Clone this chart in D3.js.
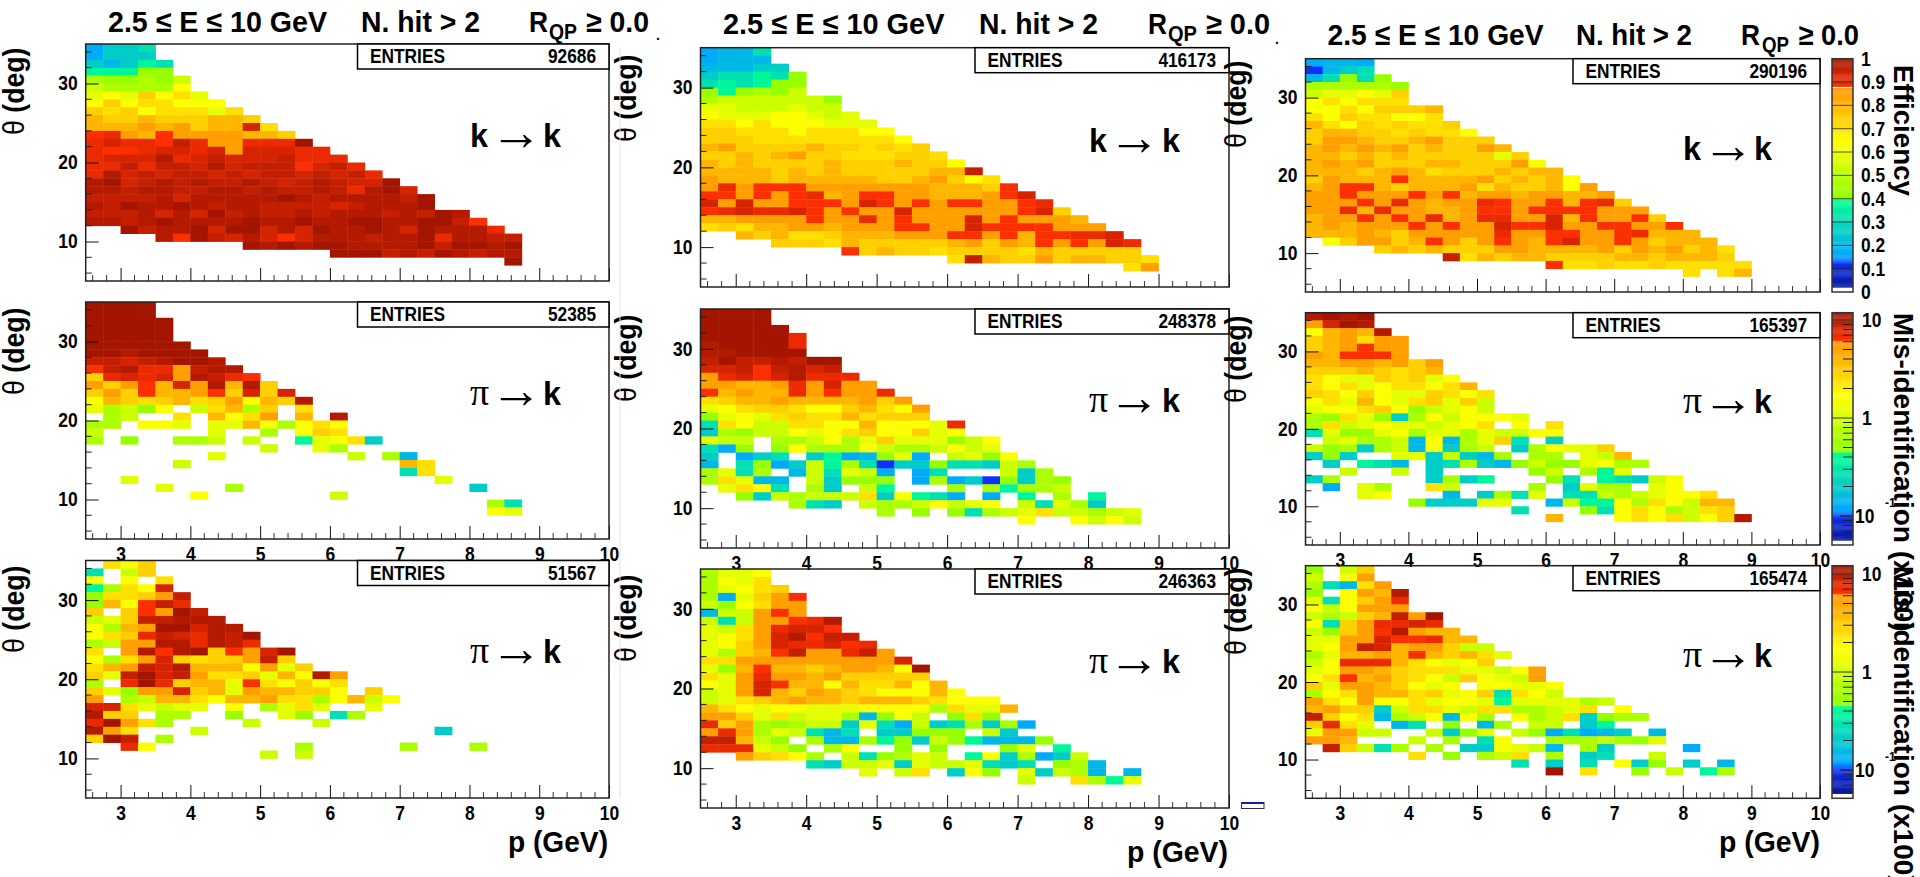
<!DOCTYPE html>
<html>
<head>
<meta charset="utf-8">
<script src="https://cdn.jsdelivr.net/npm/d3@7"></script>
<style>
html,body{margin:0;padding:0;background:#fff;overflow:hidden}
svg{display:block}
text{font-family:"Liberation Sans",Arial,sans-serif;font-weight:bold;fill:#000}
</style>
</head>
<body>
<svg id="c" width="1920" height="877"></svg>
<script>
// One character per cell, one string per theta row (top row = 34-35 deg). "." = empty bin.
const kk_A=["ceef","ceee","edegf","ggghh","ihhihj","jiiiil","klknlmk","lnlmmlll","nmnlmmmkm","onnonnnoon","ooopopnoosm","qrpoqppppoon","rsrrqtrpprrrv","rqqrssrspsssrr","rsssurstssstrrr","rrtrttsustttqstr","ruststtststtststr","uvstututtutstutssv","uutuuttuututtutruvs","ttttusuuuuuvutuuuutv","utvuuvutuuttttstuuuv","tttususvtuttutuuututvu","uutuvuuuuvuuvuuvvuuvvtq","..vtuuvsvvsusvuuvusvuuur","....uqvtsusqsuuutuuvruutt",".........vuvuvvuuuuvtvvuv","..............vvvtutvutuu","........................v"];
const pk_A=["vvvv","vvvv","vvvvv","vvvvv","vvvvv","vvvvvv","vvuvvvv","ttstuvvu","qturrptuu","nrsrsputrq","pnpqospuoun","npnqoopqnsns","lonmnomnplonu","kijhl.jmoin.m",".ij..m.olmp.o.u","ii.llk.kkolilml","j......k..i.lnm","i.h..iij.j..gklme","..........j..ki",".......k.......j.id",".....j............om","..................fm","..k.................k","....k...i.............e","......l.......j",".......................if",".......................lk"];
const pk2_A=[".mln","f.jn","l.l.m","gimls","hmmnpt","holqtr","n.nqpvt","jknttuuu","liopvvsuu","lmnrtsrutv","ijppuurutr","m.puquvnqpsv","limpsnmnnptn","moptsuooolpkn","nktvstpmmnkolup","i.rvrnookqmlnlm","nkhppsnokpoonnl.n","p.ijoomloopmmilojl","ssmkjkk.l.ikmk..k","unn.ii..h..kh.fi","rvpmi....j...j","upm...j.............e","nvt.i","..rl........i.....i...i","..........j.j"];
const kk_B=["cddf","cddd","dddee","effgfh","fgfghh","hghihj","ijjjjjjh","kkjjjkjj","lkkkllkjk","mmlmlllkkk","nnmmmlmmmll","nnnmmmmmmmml","opnnnnonnmnmn","nnonopnnmmmnnm","ononnnnonnnonnl","oooonononnnnnoot","pooonooooonnopnlm","prpqqqpppppppooonq","qqpqpqropqqppooopqs","spsppqqqpsqpqpqqppqr","qrsrrsqpqppsppppppqsn","ooppppqpprpqpppspqpppo","mnmooppoppp"+"qqpp"+"sqqq"+"qppp","..onommnoooppp"+"qqpqoqqrrs","....nnnmonnnnnopnpoqpqpsr","........qnonnmnnnnmonnnnn","..............mtonnpnoonnm","........................mp"];
const pk_B=["vvvv","vvvv","vvvvv","vvvvvr","uvvvvr","uuvvvv","tvttutvv","sstqtust","prsqsurrr","ppooprpspp","qopoorpqppr","mnoopoooopnp","klmnnmllnomlp","hklkmnmmomnnn","fmljjmmllolllkr","eihjjlklmnllnkl","kjj.iijliknkkkhjl","fch.hliiiljiijljk","e.cef.egcdhkc.jkhl","d.fhcejgifbeehffeji","ikfi.djfkjc.cf...jei","imkdd.jehhh.cicebheih",".kmlf.ie.jg...i.igiij","..hejijjjmelgfc.c.g.i.g",".....ife.jiijljkl.jfkie","..........i.h.hfijkmjjijk","..................l..ljlj"];
const pk2_B=["ikkl","ilkm","iklmn","icknpq","jhlmpp","djjpqp","jfjppqru","kjmprssq","klmpsuqtt","klnpsrrsqr","kinoqtpprtp","mmppppppppps","khoqoonoppolv","mkprppopnnnnn","lkpsqoolommolo","jkpsonponmlllol","jkmnopoonooonmlll","omlkllkkkllllimkko","ppnkmjkkidhlj.hmh","rnpihijjekfcjefieic","prpikjfdf.eehhh.je","ttojh.iddighejhgdddh","rrrkjh.il..h.h...hk.g","..pnmli.jfhikj.gleicej","......fejjkekjjkfef.hid",".........k.jm.elh.kejid.d","..................j..migk"];
const kk_C=["cddc","bdef","dfhfh","iiiiih","jkklkn","lmlmmm","llmlnnno","mlnmmllm","omlnmnmmn","noonnmnmml","npponnopnnn","opopopnonnpo","oonononnnnnkn","opopnnnoonnnpl","ooonopomnnnonoo","npoooqoooopnonol","opqqonooopmonnolp","ppqpppqpqoppoppoop","pppqprpopprqppqoqrn","pprorppoopqqpqqqqppp","oppqpqproprrppsoqppqn","opopppqpqppsqqsppqqppq","oooponpppppr"+"ppqqppqr"+"ooo",".lnppnoqpnpqpoqsppqpnooo","....nononnnppoooopnpopnom","........tmonoonnnnoonooon","..............qmmnmmnmmmmm","......................m.mo"];
const pk_C=["uvuv","psvu","lopou","nopmpp","nopqpp","poqqqp","ooppopnp","nnnonmno","mlkknmnkl","mlmklmmlmo","nmlnlkknmlm","lmkolkmnknj","kllmnlhjklj","ihmkheiljlllk","imjklkkjklm.l.m","fkhhklikkikjjll",".jkiijdldiknf.e","jhieijdleij.eilkkn","ehe..kkejedi.ii.kjo",".e.gfd.efiedhjhhklii","..j..j.e.....hj.igk","ei.....eieg...hf.gfejl",".c.ki..mj....i.ekii.kl","...kl...d.eifk.ffjijkllm","......heeekk..djgglimljoo","............f...hflmlijmn","..............o...lmlmjlnu"];
const pk2_C=["h.jn","j.lp","ifdmp","h.lpou","kflnpr","ljlppp","jijnotpv","lfnprrsr","jhnpqupoo","kkppsqqroo","klptsoppnjj","ikoopoqonomk","jlrrromlkln","klpponmmmkkjlp","lmqopnmljnlkjp","nkpponlkl.llkkl","ilmpoomnklnfmlj","pmlpllmkllkgkkkkij","opnnejmmkjmmiijkm.l","tnlmdijldli.lijmehii","nrmk.df.h.di.jj.eg","kppjj..jehk.jhcfcde.d","ppo...j.i.fl..iiijihk",".tnjfi.i.eelkjd.ie....c","......m.h.ijm.i.ef..j","............f.e.f.leh.e.d","..............v.m..h.j.gi"];

const levelCodes="abcdefghijklmnopqrstuv";
const levelValues=[.06,.12,.16,.20,.25,.31,.37,.42,.47,.53,.58,.64,.70,.74,.79,.85,.885,.905,.93,.955,.975,.995];
const paletteStops=[.02,.10,.12,.15,.20,.25,.30,.35,.395,.40,.50,.55,.60,.65,.70,.75,.80,.875,.88,1];
const paletteColors=["#0a18a0","#0c28d8","#1030ff","#00a8ff","#00b8e8","#00ccc8","#00dcb8","#00f0a0","#00ff90","#90ff00","#b8ff00","#d8ff00","#f0ff00","#ffff00","#ffe000","#ffcc00","#ffb000","#ff9800","#ff3000","#a01400"];

const entries=[92686,52385,51567,416173,248378,246363,290196,165397,165474];
const grids=[kk_A,pk_A,pk2_A,kk_B,pk_B,pk2_B,kk_C,pk_C,pk2_C];
const pBinEdges=d3.range(2.5,10.01,.25);
const xMajor=[3,4,5,6,7,8,9,10], xMinor=d3.range(2.6,10,.2);
const yMajor=[10,20,30], yMinor=[6,8,12,14,16,18,22,24,26,28,32,34];
const effTicks=[0,.1,.2,.3,.4,.5,.6,.7,.8,.9,1];
const misMinor=[.06,.07,.08,.09,.2,.3,.4,.5,.6,.7,.8,.9,2,3,4,5,6,7,8,9];

// layout
const colX=[[85.7,609],[700.5,1229],[1305.5,1820]];
const rowY=[[[44,281],[302,539],[560.5,798]],[[47.7,287],[309,548],[569,808]],[[58.7,292],[312.7,545],[565.7,798.3]]];
const tickRow=[false,true,true];
const reaction=[["k","k"],["π","k"],["π","k"]];
const reacX=[[470,500,543],[1089,1118,1162],[1683,1712,1754]];
const reacY=[[147,405,663],[152,412,673],[160,413,667]];

const svg=d3.select("#c");
const palette=d3.scaleLinear().domain(paletteStops).range(paletteColors).clamp(true);
const value=c=>levelValues[levelCodes.indexOf(c)];
const DIGIT=9.7;

function txt(x,y,s,size,len,opt={}){
  const t=svg.append("text").attr("x",x).attr("y",y).attr("font-size",size).text(s);
  if(len){t.attr("textLength",len).attr("lengthAdjust","spacingAndGlyphs");}
  if(opt.anchor)t.attr("text-anchor",opt.anchor);
  if(opt.weight)t.style("font-weight",opt.weight);
  if(opt.family)t.style("font-family",opt.family);
  return t;
}

colX.forEach((xr,ci)=>{
  rowY[ci].forEach((yr,ri)=>{
    const x=d3.scaleLinear().domain([2.5,10]).range(xr);
    const y=d3.scaleLinear().domain([5,35]).range([yr[1],yr[0]]);
    const g=svg.append("g");
    const grid=grids[ci*3+ri];
    const cells=[];
    grid.forEach((row,i)=>{ [...row].forEach((c,j)=>{ if(c!=="."&&j<30) cells.push({p:pBinEdges[j],th:34-i,v:value(c)}); }); });
    g.selectAll("rect.cell").data(cells).join("rect").attr("class","cell")
      .attr("x",d=>x(d.p)).attr("y",d=>y(d.th+1))
      .attr("width",d=>x(d.p+.25)-x(d.p)+.4).attr("height",d=>y(d.th)-y(d.th+1)+.4)
      .attr("fill",d=>palette(d.v));
    g.selectAll("line.mx").data(xMinor.filter(v=>Math.abs(v-Math.round(v))>.01)).join("line")
      .attr("x1",x).attr("x2",x).attr("y1",yr[1]).attr("y2",yr[1]-6).attr("stroke","#333").attr("stroke-width",1);
    g.selectAll("line.my").data(yMinor).join("line")
      .attr("y1",y).attr("y2",y).attr("x1",xr[0]).attr("x2",xr[0]+6).attr("stroke","#222").attr("stroke-width",1);
    const ax=g.append("g").attr("transform",`translate(0,${yr[1]})`)
      .call(d3.axisBottom(x).tickValues(xMajor).tickSize(-13).tickSizeOuter(0).tickPadding(8)
        .tickFormat(tickRow[ri]?d3.format("d"):()=>""));
    const ay=g.append("g").attr("transform",`translate(${xr[0]},0)`)
      .call(d3.axisLeft(y).tickValues(yMajor).tickSize(-13).tickSizeOuter(0).tickPadding(8));
    [ax,ay].forEach(a=>{
      a.select(".domain").remove();
      a.selectAll("text").attr("font-size",20).style("font-family",'"Liberation Sans"').style("font-weight","bold").attr("fill","#000")
        .each(function(){const n=this.textContent.length; if(n) d3.select(this).attr("textLength",n*DIGIT).attr("lengthAdjust","spacingAndGlyphs");});
      a.selectAll("line").attr("stroke","#111").attr("stroke-width",1);
    });
    g.append("rect").attr("x",xr[0]).attr("y",yr[0]).attr("width",xr[1]-xr[0]).attr("height",yr[1]-yr[0])
      .attr("fill","none").attr("stroke","#222").attr("stroke-width",1.5);
    const bx=xr[1]-(ci===2?247:(ci===1?254:251.5));
    g.append("rect").attr("x",bx).attr("y",yr[0]).attr("width",xr[1]-bx).attr("height",25)
      .attr("fill","#fff").attr("stroke","#000").attr("stroke-width",1.5);
    g.append("text").attr("x",bx+12.5).attr("y",yr[0]+19).attr("font-size",19.5)
      .attr("textLength",75).attr("lengthAdjust","spacingAndGlyphs").text("ENTRIES");
    const es=String(entries[ci*3+ri]);
    g.append("text").attr("x",xr[1]-13).attr("y",yr[0]+19).attr("font-size",19.5).attr("text-anchor","end")
      .attr("textLength",es.length*9.6).attr("lengthAdjust","spacingAndGlyphs").text(es);
    const [a,b]=reaction[ri], rx=reacX[ci], by=reacY[ci][ri];
    if(a==="π") txt(rx[0],by,a,38,null,{weight:"normal",family:'"Liberation Serif"'});
    else txt(rx[0],by,a,34,18);
    txt(rx[1]-10,by+3,"→",52,null,{weight:"normal"});
    txt(rx[2],by,b,34,18);
  });
});

const titleX=[
 {e:[108,327],n:[361,480],r:529,q:[549,577],g:[586,649],y:32},
 {e:[723,944.5],n:[979,1098],r:1148,q:[1168,1197],g:[1206,1270],y:34},
 {e:[1327.6,1543.6],n:[1576,1692],r:1741,q:[1762,1789],g:[1798.5,1859],y:45}
];
titleX.forEach(t=>{
  txt(t.e[0],t.y,"2.5 ≤ E ≤ 10 GeV",30,t.e[1]-t.e[0]);
  txt(t.n[0],t.y,"N. hit > 2",30,t.n[1]-t.n[0]);
  txt(t.r,t.y,"R",30,19);
  txt(t.q[0],t.y+7,"QP",22,t.q[1]-t.q[0]);
  txt(t.g[0],t.y,"≥ 0.0",30,t.g[1]-t.g[0]);
});
txt(656,40,".",14);
txt(1275,44,".",14);

[[508,608,852],[1127,1228,862],[1719,1820,852]].forEach(d=>txt(d[0],d[2],"p (GeV)",30,d[1]-d[0]));

[[24,[135,395,653]],[636,[142,402,662]],[1246,[148,403,655]]].forEach(([bx,ys])=>{
  ys.forEach(yy=>{
    const t=svg.append("text").attr("transform",`translate(${bx},${yy}) rotate(-90) scale(.92,1)`).attr("font-size",29);
    t.append("tspan").style("font-weight","normal").text("θ");
    t.append("tspan").text(" (deg)");
  });
});

const barX=[1832,1853];
function bar(top,bot){
  const f=d3.scaleLinear().domain([0,1]).range([bot,top]);
  const g=svg.append("g");
  g.selectAll("rect").data(d3.range(.02,1,.004)).join("rect")
    .attr("x",barX[0]).attr("width",barX[1]-barX[0])
    .attr("y",d=>f(d+.004)).attr("height",d=>f(d)-f(d+.004)+.3).attr("fill",d=>palette(d));
  return g;
}
function barFrame(top,bot){
  svg.append("rect").attr("x",barX[0]).attr("y",top).attr("width",barX[1]-barX[0]).attr("height",bot-top)
    .attr("fill","none").attr("stroke","#333").attr("stroke-width",1.5);
}
{
  const top=rowY[2][0][0],bot=rowY[2][0][1];
  bar(top,bot);
  const yE=d3.scaleLinear().domain([0,1]).range([bot,top]);
  svg.append("line").attr("x1",barX[0]).attr("x2",barX[1]).attr("y1",yE(.877)).attr("y2",yE(.877)).attr("stroke","#fff").attr("stroke-width",1);
  svg.selectAll(null).data(effTicks.slice(1,-1)).join("line")
    .attr("x1",barX[0]).attr("x2",barX[1]).attr("y1",yE).attr("y2",yE).attr("stroke","#222").attr("stroke-opacity",.75).attr("stroke-width",1);
  effTicks.forEach(v=>{const s=v===0||v===1?String(v):v.toFixed(1); txt(1861,yE(v)+7,s,20,s.length===1?DIGIT:24);});
  barFrame(top,bot);
  svg.append("text").attr("transform",`translate(1894,65) rotate(90)`).attr("font-size",28).attr("textLength",131).attr("lengthAdjust","spacingAndGlyphs").text("Efficiency");
}
[[1,320,418,516],[2,574,672,770]].forEach(([ri,y10,y1,y01])=>{
  const top=rowY[2][ri][0],bot=rowY[2][ri][1];
  bar(top,bot);
  const yM=d3.scaleLog().domain([.1,10]).range([y01,y10]);
  svg.selectAll(null).data(misMinor).join("line")
    .attr("x1",barX[1]-10).attr("x2",barX[1]).attr("y1",yM).attr("y2",yM).attr("stroke","#222").attr("stroke-width",1);
  svg.append("line").attr("x1",barX[0]).attr("x2",barX[1]).attr("y1",yM(1)).attr("y2",yM(1)).attr("stroke","#333").attr("stroke-width",1);
  svg.append("line").attr("x1",barX[0]).attr("x2",barX[1]).attr("y1",yM(10)).attr("y2",yM(10)).attr("stroke","#333").attr("stroke-width",1);
  svg.append("line").attr("x1",barX[1]-13).attr("x2",barX[1]).attr("y1",yM(.1)).attr("y2",yM(.1)).attr("stroke","#111").attr("stroke-width",1);
  barFrame(top,bot);
  txt(1862,yM(10)+7,"10",20,2*DIGIT);
  txt(1862,yM(1)+7,"1",20,DIGIT);
  txt(1855,yM(.1)+7,"10",20,2*DIGIT);
  txt(1885,yM(.1)-9,"-1",12);
  svg.append("text").attr("transform",`translate(1894,${top}) rotate(90)`).attr("font-size",28).text("Mis-identification (x100)");
});

svg.append("rect").attr("x",1241.5).attr("y",802.5).attr("width",22.5).attr("height",6).attr("fill","#fff").attr("stroke","#333").attr("stroke-width",1);
svg.append("line").attr("x1",1241).attr("x2",1264).attr("y1",803).attr("y2",803).attr("stroke","#10209c").attr("stroke-width",2);
svg.append("line").attr("x1",620).attr("x2",620).attr("y1",48).attr("y2",798).attr("stroke","#e4e4e4").attr("stroke-width",1);
</script>
</body>
</html>
